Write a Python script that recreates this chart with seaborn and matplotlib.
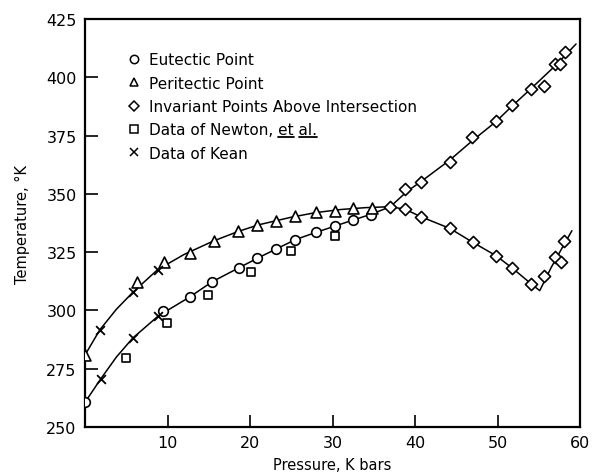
import matplotlib
matplotlib.use("Agg")
import matplotlib.pyplot as plt
import seaborn as sns
import pandas as pd
from matplotlib.lines import Line2D
from matplotlib.transforms import IdentityTransform

# ---------------- data ----------------
eutectic_p = [0.0, 9.5, 12.7, 15.4, 18.6, 20.9, 23.1, 25.5, 28.0, 30.3, 32.5, 34.7]
eutectic_t = [260.6, 299.6, 305.6, 312.3, 318.2, 322.4, 326.4, 330.4, 333.5, 336.1, 338.8, 341.1]

peritectic_p = [0.0, 6.3, 9.6, 12.7, 15.6, 18.5, 20.9, 23.2, 25.5, 28.0, 30.3, 32.5, 34.8]
peritectic_t = [280.9, 312.1, 320.9, 324.6, 329.9, 334.0, 336.7, 338.5, 340.7, 342.1, 342.8, 343.8, 343.8]

invariant_p = [37.0, 38.8, 40.7, 44.2, 46.9, 49.8, 51.8, 54.1, 55.6, 56.9, 57.5, 58.2,
               38.8, 40.7, 44.2, 47.0, 49.8, 51.8, 54.1, 55.6, 57.0, 57.7, 58.1]
invariant_t = [344.3, 352.1, 355.2, 363.8, 374.3, 381.4, 388.3, 395.0, 396.4, 405.7, 405.7, 410.7,
               343.5, 340.2, 335.2, 329.2, 323.5, 318.1, 311.3, 314.9, 322.8, 320.7, 329.9]

newton_p = [5.0, 9.9, 14.9, 20.1, 25.0, 30.3]
newton_t = [279.6, 294.6, 306.6, 316.4, 325.4, 331.8]

kean_p = [1.8, 5.8, 8.8, 1.9, 5.8, 8.9]
kean_t = [291.7, 307.8, 317.5, 270.6, 288.2, 297.7]

# drawn curves (knots)
upper_p = [0.0, 1.8, 3.8, 5.8, 8.8, 12.0, 15.5, 18.5, 21.0, 25.0, 28.0, 31.0, 34.0, 37.0,
           39.0, 40.8, 44.2, 47.0, 49.8, 51.7, 54.0, 57.2, 59.5]
upper_t = [280.9, 291.7, 300.5, 307.8, 317.5, 324.0, 329.7, 333.8, 336.7, 340.0, 342.0, 343.3, 344.1, 344.5,
           351.0, 355.5, 364.5, 373.0, 381.0, 387.5, 395.0, 405.7, 414.3]
lower_p = [0.0, 1.9, 3.8, 5.8, 8.9, 12.7, 15.4, 18.6, 21.0, 25.5, 28.0, 30.3, 32.5, 34.7, 37.0,
           38.8, 40.7, 44.2, 47.0, 49.8, 51.8, 54.1, 55.1, 56.5, 58.0, 59.0]
lower_t = [260.6, 270.6, 280.0, 288.2, 297.7, 305.8, 312.3, 318.2, 322.6, 330.4, 333.5, 336.2, 338.8, 341.3, 344.5,
           343.4, 340.2, 335.2, 329.2, 323.5, 318.1, 311.3, 308.5, 318.5, 328.0, 334.2]

x_ticks = [10, 20, 30, 40, 50, 60]
y_ticks = [250, 275, 300, 325, 350, 375, 400, 425]

legend_labels = ["Eutectic Point", "Peritectic Point", "Invariant Points Above Intersection",
                 "Data of Newton, et al.", "Data of Kean"]

# ---------------- figure ----------------
sns.set_theme(style="white")
plt.rcParams['font.family'] = ['DejaVu Sans']
plt.rcParams['text.color'] = 'black'
plt.rcParams['axes.labelcolor'] = 'black'
plt.rcParams['xtick.color'] = 'black'
plt.rcParams['ytick.color'] = 'black'

fig = plt.figure(figsize=(5.92, 4.77), dpi=100)
ax = fig.add_axes([0.1436, 0.1027, 0.8364, 0.8553])

curve_upper = pd.DataFrame({"p": upper_p, "t": upper_t})
curve_lower = pd.DataFrame({"p": lower_p, "t": lower_t})
sns.lineplot(data=curve_upper, x="p", y="t", sort=False, estimator=None, color="black", lw=1.1, ax=ax, zorder=2)
sns.lineplot(data=curve_lower, x="p", y="t", sort=False, estimator=None, color="black", lw=1.1, ax=ax, zorder=2)

mk = dict(facecolor="white", edgecolor="black", linewidth=1.2, zorder=3, ax=ax, legend=False)
sns.scatterplot(x=eutectic_p, y=eutectic_t, marker="o", s=48, **mk)
sns.scatterplot(x=peritectic_p, y=peritectic_t, marker="^", s=62, **mk)
sns.scatterplot(x=invariant_p, y=invariant_t, marker="D", s=38, **mk)
sns.scatterplot(x=newton_p, y=newton_t, marker="s", s=38, **mk)
sns.scatterplot(x=kean_p, y=kean_t, marker="x", s=40, color="black", linewidth=1.3, zorder=4, ax=ax, legend=False)

ax.set_xlim(0, 60)
ax.set_ylim(250, 425)
ax.set_xticks(x_ticks)
ax.set_yticks(y_ticks)
ax.tick_params(direction="in", length=9, width=1.2, colors="black", labelsize=11.5,
               bottom=True, left=True, top=False, right=False, pad=6)
for s in ax.spines.values():
    s.set_color("black")
    s.set_linewidth(1.6)

ax.set_xlabel("Pressure, K bars", fontsize=10.5, labelpad=5, color="black")
ax.set_ylabel("Temperature, °K", fontsize=10.5, labelpad=12, color="black")

handles = [
    Line2D([], [], ls="none", marker="o", ms=6, mfc="white", mec="black", mew=1.1),
    Line2D([], [], ls="none", marker="^", ms=6, mfc="white", mec="black", mew=1.1),
    Line2D([], [], ls="none", marker="D", ms=5.5, mfc="white", mec="black", mew=1.1),
    Line2D([], [], ls="none", marker="s", ms=5.5, mfc="white", mec="black", mew=1.1),
    Line2D([], [], ls="none", marker="x", ms=6, mfc="white", mec="black", mew=1.1),
]
leg = ax.legend(handles, legend_labels, loc="upper left", bbox_to_anchor=(0.065, 0.945),
                frameon=False, fontsize=11, handlelength=0.8, handletextpad=0.6,
                labelspacing=0.55, borderpad=0.2, labelcolor="black")

# underline "et" and "al." in the Newton label
fig.canvas.draw()
renderer = fig.canvas.get_renderer()
t = leg.get_texts()[3]
bb = t.get_window_extent(renderer)
fp = t.get_fontproperties()
def w(s):
    return renderer.get_text_width_height_descent(s, fp, ismath=False)[0]
label = legend_labels[3]
i_et = label.index("et")
i_al = label.index("al.")
y_u = bb.y0 + 0.5
for start, word in [(i_et, "et"), (i_al, "al.")]:
    x0 = bb.x0 + w(label[:start]) if start > 0 else bb.x0
    x1 = bb.x0 + w(label[:start] + word)
    fig.add_artist(Line2D([x0, x1], [y_u, y_u], color="black", lw=1.3, transform=IdentityTransform()))

fig.savefig("out.png", dpi=100)
